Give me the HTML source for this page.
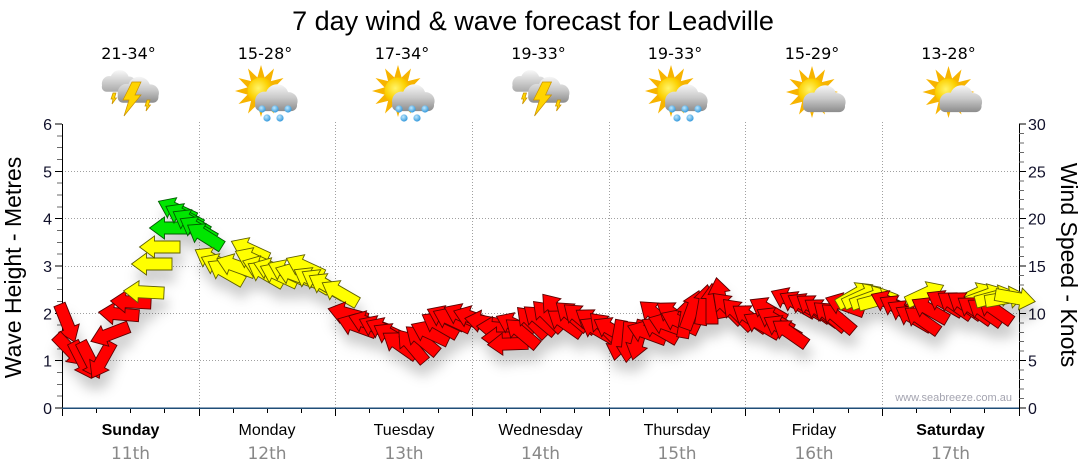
<!DOCTYPE html>
<html><head><meta charset="utf-8"><style>
html,body{margin:0;padding:0;background:#fff}
svg{display:block}
.r{fill:#ff0000;stroke:#5a0000}
.y{fill:#ffff00;stroke:#5f5f00}
.g{fill:#00e600;stroke:#005a00}
.ar use{stroke-width:0.9}
text{font-family:"Liberation Sans",Arial,sans-serif}
.dv{font-family:"DejaVu Sans",sans-serif}
</style></head><body>
<svg width="1080" height="475" viewBox="0 0 1080 475" xmlns="http://www.w3.org/2000/svg">
<defs>
<path id="A" d="M-20,-6H5.5V-11L20.5,0L5.5,11V6H-20Z"/>
<linearGradient id="cg" x1="0" y1="-14" x2="0" y2="12" gradientUnits="userSpaceOnUse"><stop offset="0" stop-color="#f6f6f6"/><stop offset="0.5" stop-color="#c8c8c8"/><stop offset="1" stop-color="#8a8a8a"/></linearGradient>
<linearGradient id="cg2" x1="0" y1="-14" x2="0" y2="12" gradientUnits="userSpaceOnUse"><stop offset="0" stop-color="#f8f8f8"/><stop offset="1" stop-color="#a8a8a8"/></linearGradient>
<radialGradient id="sg" cx="0.4" cy="0.4" r="0.65"><stop offset="0" stop-color="#fff46a"/><stop offset="0.6" stop-color="#fcd000"/><stop offset="1" stop-color="#f0a000"/></radialGradient>
<radialGradient id="dg" cx="0.4" cy="0.35" r="0.7"><stop offset="0" stop-color="#bfe8ff"/><stop offset="1" stop-color="#2a93d8"/></radialGradient>
<g id="cloud"><circle cx="-10" cy="2" r="9"/><circle cx="2" cy="-3" r="11"/><circle cx="13" cy="2" r="8.5"/><rect x="-19" y="0" width="40" height="11.5" rx="5.5"/></g>
<g id="sun"><polygon fill="#f7b400" points="26,0 13.5,3.6 22.5,13 9.9,9.9 13,22.5 3.6,13.5 0,26 -3.6,13.5 -13,22.5 -9.9,9.9 -22.5,13 -13.5,3.6 -26,0 -13.5,-3.6 -22.5,-13 -9.9,-9.9 -13,-22.5 -3.6,-13.5 0,-26 3.6,-13.5 13,-22.5 9.9,-9.9 22.5,-13 13.5,-3.6"/><circle r="13.5" fill="url(#sg)"/></g>
<g id="storm"><g transform="translate(-12,82) scale(0.85)" fill="url(#cg2)"><use href="#cloud"/></g><g transform="translate(7,91) scale(1.02)" fill="url(#cg)"><use href="#cloud"/></g><g fill="#ffd400" stroke="#c89000" stroke-width="0.7"><polygon points="2,82 11,82 5,95 11,95 -6,116 -1,100 -7,100"/><polygon points="-17,93 -14,93 -15.5,98 -13.5,98 -18,104 -17,99 -19,99"/><polygon points="17,100 20,100 18.5,105 20.5,105 16,111 17,106 15,106"/></g></g>
<g id="rain"><use href="#sun" transform="translate(-6,91)"/><g transform="translate(8,99) scale(1.05)" fill="url(#cg)"><use href="#cloud"/></g><g fill="url(#dg)"><circle cx="-5" cy="109" r="3.6"/><circle cx="8" cy="109" r="3.6"/><circle cx="21" cy="109" r="3.6"/><circle cx="0" cy="118" r="3.6"/><circle cx="13" cy="118" r="3.6"/></g></g>
<g id="suncl"><use href="#sun" transform="translate(-2,92)"/><g transform="translate(9,100) scale(1.05)" fill="url(#cg)"><use href="#cloud"/></g></g>
<filter id="sh" filterUnits="userSpaceOnUse" x="0" y="0" width="1080" height="475"><feGaussianBlur in="SourceAlpha" stdDeviation="6"/><feOffset dx="3" dy="12" result="b"/><feFlood flood-color="#000" flood-opacity="0.2"/><feComposite in2="b" operator="in"/><feMerge><feMergeNode/><feMergeNode in="SourceGraphic"/></feMerge></filter>
</defs>

<text x="533" y="30" font-size="27" text-anchor="middle" fill="#000">7 day wind &amp; wave forecast for Leadville</text>

<g font-size="16" text-anchor="middle" fill="#000">
<text class="dv" x="128.5" y="59">21-34°</text>
<text class="dv" x="265" y="59">15-28°</text>
<text class="dv" x="402" y="59">17-34°</text>
<text class="dv" x="538.5" y="59">19-33°</text>
<text class="dv" x="675" y="59">19-33°</text>
<text class="dv" x="812" y="59">15-29°</text>
<text class="dv" x="948.5" y="59">13-28°</text>
</g>

<use href="#storm" transform="translate(130,0)"/>
<use href="#rain" transform="translate(267,0)"/>
<use href="#rain" transform="translate(404,0)"/>
<use href="#storm" transform="translate(540.5,0)"/>
<use href="#rain" transform="translate(677,0)"/>
<use href="#suncl" transform="translate(814,0)"/>
<use href="#suncl" transform="translate(950.5,0)"/>

<g stroke="#a0a0a0" stroke-width="1" stroke-dasharray="1 2" fill="none">
<path d="M62,360.5H1019M62,313.5H1019M62,266.5H1019M62,218.5H1019M62,171.5H1019"/>
<path d="M199.5,122V408M335.5,122V408M472.5,122V408M609.5,122V408M745.5,122V408M882.5,122V408"/>
</g>

<g shape-rendering="crispEdges" fill="none">
<path d="M62.5,124V408M1019.5,124V408" stroke="#000"/>
<path stroke="#6a6a6a" d="M57,396.2H62M57,384.3H62M57,372.5H62M57,348.8H62M57,337H62M57,325.2H62M57,301.5H62M57,289.7H62M57,277.8H62M57,254.2H62M57,242.3H62M57,230.5H62M57,206.8H62M57,195H62M57,183.2H62M57,159.5H62M57,147.7H62M57,135.8H62"/>
<path stroke="#000" d="M55,408H62M55,360.7H62M55,313.3H62M55,266H62M55,218.7H62M55,171.3H62M55,124H62"/>
<path stroke="#6a6a6a" d="M1019,398.5H1024M1019,389.1H1024M1019,379.6H1024M1019,370.1H1024M1019,351.2H1024M1019,341.7H1024M1019,332.3H1024M1019,322.8H1024M1019,303.9H1024M1019,294.4H1024M1019,284.9H1024M1019,275.5H1024M1019,256.5H1024M1019,247.1H1024M1019,237.6H1024M1019,228.1H1024M1019,209.2H1024M1019,199.7H1024M1019,190.3H1024M1019,180.8H1024M1019,161.9H1024M1019,152.4H1024M1019,142.9H1024M1019,133.5H1024"/>
<path stroke="#000" d="M1019,408H1026M1019,360.7H1026M1019,313.3H1026M1019,266H1026M1019,218.7H1026M1019,171.3H1026M1019,124H1026"/>
<path stroke="#000" d="M62.5,408V416M199.5,408V416M335.5,408V416M472.5,408V416M609.5,408V416M745.5,408V416M882.5,408V416M1019.5,408V416"/>
<path stroke="#000" d="M96.5,408V413M130.5,408V413M164.5,408V413M233.5,408V413M267.5,408V413M301.5,408V413M369.5,408V413M403.5,408V413M438.5,408V413M506.5,408V413M540.5,408V413M574.5,408V413M643.5,408V413M677.5,408V413M711.5,408V413M779.5,408V413M813.5,408V413M848.5,408V413M916.5,408V413M950.5,408V413M984.5,408V413"/>
<path stroke="#1f4e78" stroke-width="1.5" d="M62,408H1019"/>
</g>

<g font-size="16" fill="#10102a" text-anchor="end">
<text x="52" y="414">0</text><text x="52" y="366.7">1</text><text x="52" y="319.3">2</text><text x="52" y="272">3</text><text x="52" y="224.7">4</text><text x="52" y="177.3">5</text><text x="52" y="130">6</text>
</g>
<g font-size="16" fill="#10102a" text-anchor="start">
<text x="1028" y="414">0</text><text x="1028" y="366.7">5</text><text x="1028" y="319.3">10</text><text x="1028" y="272">15</text><text x="1028" y="224.7">20</text><text x="1028" y="177.3">25</text><text x="1028" y="130">30</text>
</g>
<text transform="translate(21,267.5) rotate(-90)" font-size="23" text-anchor="middle" fill="#000">Wave Height - Metres</text>
<text transform="translate(1061,265) rotate(90)" font-size="23" text-anchor="middle" fill="#000">Wind Speed - Knots</text>

<g font-size="16" text-anchor="middle" fill="#000">
<text x="130.5" y="435" font-weight="bold">Sunday</text>
<text x="267" y="435">Monday</text>
<text x="404" y="435">Tuesday</text>
<text x="540.5" y="435">Wednesday</text>
<text x="677" y="435">Thursday</text>
<text x="814" y="435">Friday</text>
<text x="950.5" y="435" font-weight="bold">Saturday</text>
</g>
<g font-size="17" text-anchor="middle" fill="#888">
<text class="dv" x="130.5" y="459">11th</text>
<text class="dv" x="267" y="459">12th</text>
<text class="dv" x="404" y="459">13th</text>
<text class="dv" x="540.5" y="459">14th</text>
<text class="dv" x="677" y="459">15th</text>
<text class="dv" x="814" y="459">16th</text>
<text class="dv" x="950.5" y="459">17th</text>
</g>

<text x="1012" y="401" font-size="11" text-anchor="end" fill="#a4a4b0">www.seabreeze.com.au</text>

<g class="ar" filter="url(#sh)">
<use href="#A" class="r" transform="translate(67 323) rotate(68)"/>
<use href="#A" class="r" transform="translate(70 350) rotate(46)"/>
<use href="#A" class="r" transform="translate(82 360) rotate(63)"/>
<use href="#A" class="r" transform="translate(90 360) rotate(63)"/>
<use href="#A" class="r" transform="translate(102 360) rotate(119)"/>
<use href="#A" class="r" transform="translate(110 334) rotate(159)"/>
<use href="#A" class="r" transform="translate(119 314) rotate(185)"/>
<use href="#A" class="r" transform="translate(131 302) rotate(183)"/>
<use href="#A" class="y" transform="translate(144 292) rotate(183)"/>
<use href="#A" class="y" transform="translate(152 264) rotate(180)"/>
<use href="#A" class="y" transform="translate(160 247) rotate(180)"/>
<use href="#A" class="g" transform="translate(170 228) rotate(180)"/>
<use href="#A" class="g" transform="translate(177 210) rotate(205)"/>
<use href="#A" class="g" transform="translate(184 216) rotate(208)"/>
<use href="#A" class="g" transform="translate(191 222) rotate(210)"/>
<use href="#A" class="g" transform="translate(198 229) rotate(210)"/>
<use href="#A" class="g" transform="translate(205 236) rotate(212)"/>
<use href="#A" class="y" transform="translate(213 260) rotate(210)"/>
<use href="#A" class="y" transform="translate(220 266) rotate(205)"/>
<use href="#A" class="y" transform="translate(226 272) rotate(210)"/>
<use href="#A" class="y" transform="translate(236 266) rotate(200)"/>
<use href="#A" class="y" transform="translate(250 250) rotate(205)"/>
<use href="#A" class="y" transform="translate(254 260) rotate(205)"/>
<use href="#A" class="y" transform="translate(262 268) rotate(200)"/>
<use href="#A" class="y" transform="translate(266 274) rotate(210)"/>
<use href="#A" class="y" transform="translate(273 270) rotate(200)"/>
<use href="#A" class="y" transform="translate(279 275) rotate(205)"/>
<use href="#A" class="y" transform="translate(287 272) rotate(205)"/>
<use href="#A" class="y" transform="translate(295 275) rotate(200)"/>
<use href="#A" class="y" transform="translate(305 267) rotate(205)"/>
<use href="#A" class="y" transform="translate(312 280) rotate(210)"/>
<use href="#A" class="y" transform="translate(320 282) rotate(210)"/>
<use href="#A" class="y" transform="translate(327 286) rotate(210)"/>
<use href="#A" class="y" transform="translate(340 293) rotate(210)"/>
<use href="#A" class="r" transform="translate(348 314) rotate(195)"/>
<use href="#A" class="r" transform="translate(357 326) rotate(200)"/>
<use href="#A" class="r" transform="translate(368 323) rotate(200)"/>
<use href="#A" class="r" transform="translate(378 328) rotate(205)"/>
<use href="#A" class="r" transform="translate(385 330) rotate(205)"/>
<use href="#A" class="r" transform="translate(392 336) rotate(210)"/>
<use href="#A" class="r" transform="translate(400 345) rotate(215)"/>
<use href="#A" class="r" transform="translate(412 346) rotate(230)"/>
<use href="#A" class="r" transform="translate(422 340) rotate(220)"/>
<use href="#A" class="r" transform="translate(430 333) rotate(205)"/>
<use href="#A" class="r" transform="translate(440 325) rotate(210)"/>
<use href="#A" class="r" transform="translate(446 318) rotate(205)"/>
<use href="#A" class="r" transform="translate(452 320) rotate(205)"/>
<use href="#A" class="r" transform="translate(463 316) rotate(205)"/>
<use href="#A" class="r" transform="translate(473 318) rotate(200)"/>
<use href="#A" class="r" transform="translate(485 322) rotate(190)"/>
<use href="#A" class="r" transform="translate(497 328) rotate(185)"/>
<use href="#A" class="r" transform="translate(502 338) rotate(180)"/>
<use href="#A" class="r" transform="translate(508 344) rotate(178)"/>
<use href="#A" class="r" transform="translate(515 325) rotate(205)"/>
<use href="#A" class="r" transform="translate(522 333) rotate(220)"/>
<use href="#A" class="r" transform="translate(532 322) rotate(225)"/>
<use href="#A" class="r" transform="translate(540 320) rotate(220)"/>
<use href="#A" class="r" transform="translate(548 316) rotate(225)"/>
<use href="#A" class="r" transform="translate(556 310) rotate(230)"/>
<use href="#A" class="r" transform="translate(565 323) rotate(215)"/>
<use href="#A" class="r" transform="translate(572 316) rotate(220)"/>
<use href="#A" class="r" transform="translate(580 318) rotate(220)"/>
<use href="#A" class="r" transform="translate(593 322) rotate(215)"/>
<use href="#A" class="r" transform="translate(598 330) rotate(210)"/>
<use href="#A" class="r" transform="translate(605 328) rotate(225)"/>
<use href="#A" class="r" transform="translate(612 330) rotate(210)"/>
<use href="#A" class="r" transform="translate(618 340) rotate(100)"/>
<use href="#A" class="r" transform="translate(628 342) rotate(95)"/>
<use href="#A" class="r" transform="translate(638 340) rotate(105)"/>
<use href="#A" class="r" transform="translate(647 333) rotate(200)"/>
<use href="#A" class="r" transform="translate(656 315) rotate(220)"/>
<use href="#A" class="r" transform="translate(660 330) rotate(210)"/>
<use href="#A" class="r" transform="translate(668 325) rotate(200)"/>
<use href="#A" class="r" transform="translate(674 315) rotate(215)"/>
<use href="#A" class="r" transform="translate(680 322) rotate(205)"/>
<use href="#A" class="r" transform="translate(686 318) rotate(280)"/>
<use href="#A" class="r" transform="translate(692 310) rotate(290)"/>
<use href="#A" class="r" transform="translate(704 305) rotate(280)"/>
<use href="#A" class="r" transform="translate(712 304) rotate(270)"/>
<use href="#A" class="r" transform="translate(720 298) rotate(260)"/>
<use href="#A" class="r" transform="translate(728 308) rotate(225)"/>
<use href="#A" class="r" transform="translate(738 314) rotate(225)"/>
<use href="#A" class="r" transform="translate(750 318) rotate(215)"/>
<use href="#A" class="r" transform="translate(762 325) rotate(210)"/>
<use href="#A" class="r" transform="translate(768 310) rotate(210)"/>
<use href="#A" class="r" transform="translate(775 320) rotate(210)"/>
<use href="#A" class="r" transform="translate(782 328) rotate(210)"/>
<use href="#A" class="r" transform="translate(790 333) rotate(215)"/>
<use href="#A" class="r" transform="translate(790 300) rotate(205)"/>
<use href="#A" class="r" transform="translate(798 304) rotate(210)"/>
<use href="#A" class="r" transform="translate(806 306) rotate(210)"/>
<use href="#A" class="r" transform="translate(814 308) rotate(215)"/>
<use href="#A" class="r" transform="translate(822 312) rotate(215)"/>
<use href="#A" class="r" transform="translate(830 316) rotate(220)"/>
<use href="#A" class="r" transform="translate(838 318) rotate(220)"/>
<use href="#A" class="r" transform="translate(845 305) rotate(200)"/>
<use href="#A" class="y" transform="translate(855 295) rotate(330)"/>
<use href="#A" class="y" transform="translate(862 296) rotate(335)"/>
<use href="#A" class="y" transform="translate(870 298) rotate(340)"/>
<use href="#A" class="y" transform="translate(878 300) rotate(345)"/>
<use href="#A" class="r" transform="translate(890 303) rotate(205)"/>
<use href="#A" class="r" transform="translate(898 308) rotate(210)"/>
<use href="#A" class="r" transform="translate(906 313) rotate(210)"/>
<use href="#A" class="r" transform="translate(914 318) rotate(210)"/>
<use href="#A" class="r" transform="translate(922 320) rotate(215)"/>
<use href="#A" class="y" transform="translate(925 294) rotate(335)"/>
<use href="#A" class="r" transform="translate(930 310) rotate(210)"/>
<use href="#A" class="y" transform="translate(975 295) rotate(335)"/>
<use href="#A" class="y" transform="translate(985 296) rotate(340)"/>
<use href="#A" class="r" transform="translate(945 303) rotate(210)"/>
<use href="#A" class="r" transform="translate(955 305) rotate(215)"/>
<use href="#A" class="r" transform="translate(965 305) rotate(215)"/>
<use href="#A" class="r" transform="translate(975 310) rotate(215)"/>
<use href="#A" class="r" transform="translate(985 312) rotate(215)"/>
<use href="#A" class="r" transform="translate(995 310) rotate(215)"/>
<use href="#A" class="y" transform="translate(995 297) rotate(345)"/>
<use href="#A" class="y" transform="translate(1005 298) rotate(350)"/>
<use href="#A" class="y" transform="translate(1015 298) rotate(10)"/>
</g>
</svg>
</body></html>
